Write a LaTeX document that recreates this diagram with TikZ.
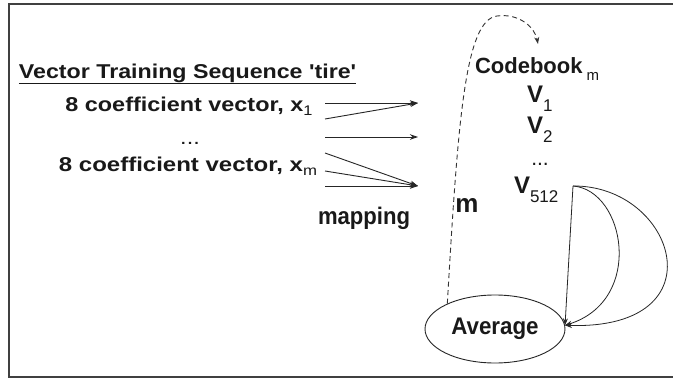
\documentclass[tikz,border=0pt]{standalone}
\usepackage{fontspec}
\usepackage{graphicx}
\setmainfont{Liberation Sans}
\usetikzlibrary{arrows.meta,shapes.geometric}

% font size helper and a lowered, regular-weight subscript
\newcommand{\sz}[1]{\fontsize{#1}{#1}\selectfont}
\newcommand{\lowsub}[3]{\raisebox{-#1}{\sz{#2}\mdseries #3}}

\tikzset{
  txt/.style={inner sep=0pt, outer sep=0pt, font=\bfseries, text=black!90},
  arr/.style={-{Stealth[length=8pt,width=5.5pt]}, line width=0.9pt, black!85},
  loop/.style={-{Stealth[length=7pt,width=5pt]}, line width=0.8pt, black!85},
  feedback/.style={-{Stealth[length=7pt,width=5pt]}, line width=0.9pt, black!80,
                   dash pattern=on 5pt off 3.5pt},
  frame/.style={line width=1.8pt, black!75},
  avgbox/.style={ellipse, draw, line width=0.9pt, black!85, text=black!90,
                 minimum width=140pt, minimum height=68pt, inner sep=0pt,
                 font=\bfseries}
}

\begin{document}
\begin{tikzpicture}[x=1pt, y=-1pt]
\useasboundingbox (0,0) rectangle (673,378);
\fill[white] (0,0) rectangle (673,378);

% open frame (right side runs off the page)
\draw[frame] (690,4) -- (9,4) -- (9,377) -- (690,377);

% ---- training sequence (left) ----
\node[txt, anchor=base west] (title) at (19,78)
  {\scalebox{1.16}[1]{\sz{20}\underline{Vector Training Sequence \textquotesingle tire\textquotesingle}}};
\node[txt, anchor=base] (x1) at (189,111)
  {\scalebox{1.17}[1]{\sz{20}8 coefficient vector, x\lowsub{4pt}{14}{1}}};
\node[txt, anchor=base, font=\mdseries] (xdots) at (190,144)
  {\scalebox{1.17}[1]{\sz{20}...}};
\node[txt, anchor=base] (xm) at (188,171)
  {\scalebox{1.2}[1]{\sz{20}8 coefficient vector, x\lowsub{4pt}{14}{m}}};

% ---- mapping arrows ----
\coordinate (a1) at (325,103);
\coordinate (a2) at (325,119);
\coordinate (b1) at (325,137);
\coordinate (c1) at (325,153);
\coordinate (c2) at (325,171);
\coordinate (c3) at (325,186);
\coordinate (t1) at (418,103);
\coordinate (t2) at (418,137);
\coordinate (t3) at (418,186);
\draw[arr] (a1) -- (t1);
\draw[arr] (a2) -- (t1);
\draw[arr] (b1) -- (t2);
\draw[arr] (c1) -- (t3);
\draw[arr] (c2) -- (t3);
\draw[arr] (c3) -- (t3);

\node[txt, anchor=base west] (map) at (318,224)
  {\scalebox{0.92}[1]{\sz{24}mapping}};

% ---- codebook (right) ----
\node[txt, anchor=base west] (cb) at (475,73)
  {\sz{22}Codebook\hspace{4pt}\lowsub{7pt}{15}{m}};
\node[txt, anchor=base west] (v1) at (527,102)
  {\sz{24}V\lowsub{9pt}{17}{1}};
\node[txt, anchor=base west] (v2) at (527,133)
  {\sz{24}V\lowsub{9pt}{17}{2}};
\node[txt, anchor=base, font=\mdseries] (vdots) at (540,165) {\sz{21}...};
\node[txt, anchor=base west] (v512) at (514,193)
  {\sz{24}V\lowsub{9pt}{17}{512}};

% ---- averaging ----
\node[avgbox] (avg) at (495,329) {\scalebox{0.93}[1]{\sz{24}Average}};
\node[txt] (mlab) at (467,205) {\sz{26}m};

% dashed feedback from the average back to the codebook
\coordinate (cbtip) at (538,44);
\draw[feedback] (avg.152) .. controls (458,120) and (465,20) .. (497,16)
                          .. controls (520,13) and (535,28) .. (cbtip);

% codewords collected into the average
\coordinate (s) at (573,186);
\draw[loop] (s) -- (avg.3);
\draw[loop] (s) .. controls (625,190) and (645,300) .. (avg.3);
\draw[loop] (s) .. controls (675,185) and (722,330) .. (avg.3);
\end{tikzpicture}
\end{document}
